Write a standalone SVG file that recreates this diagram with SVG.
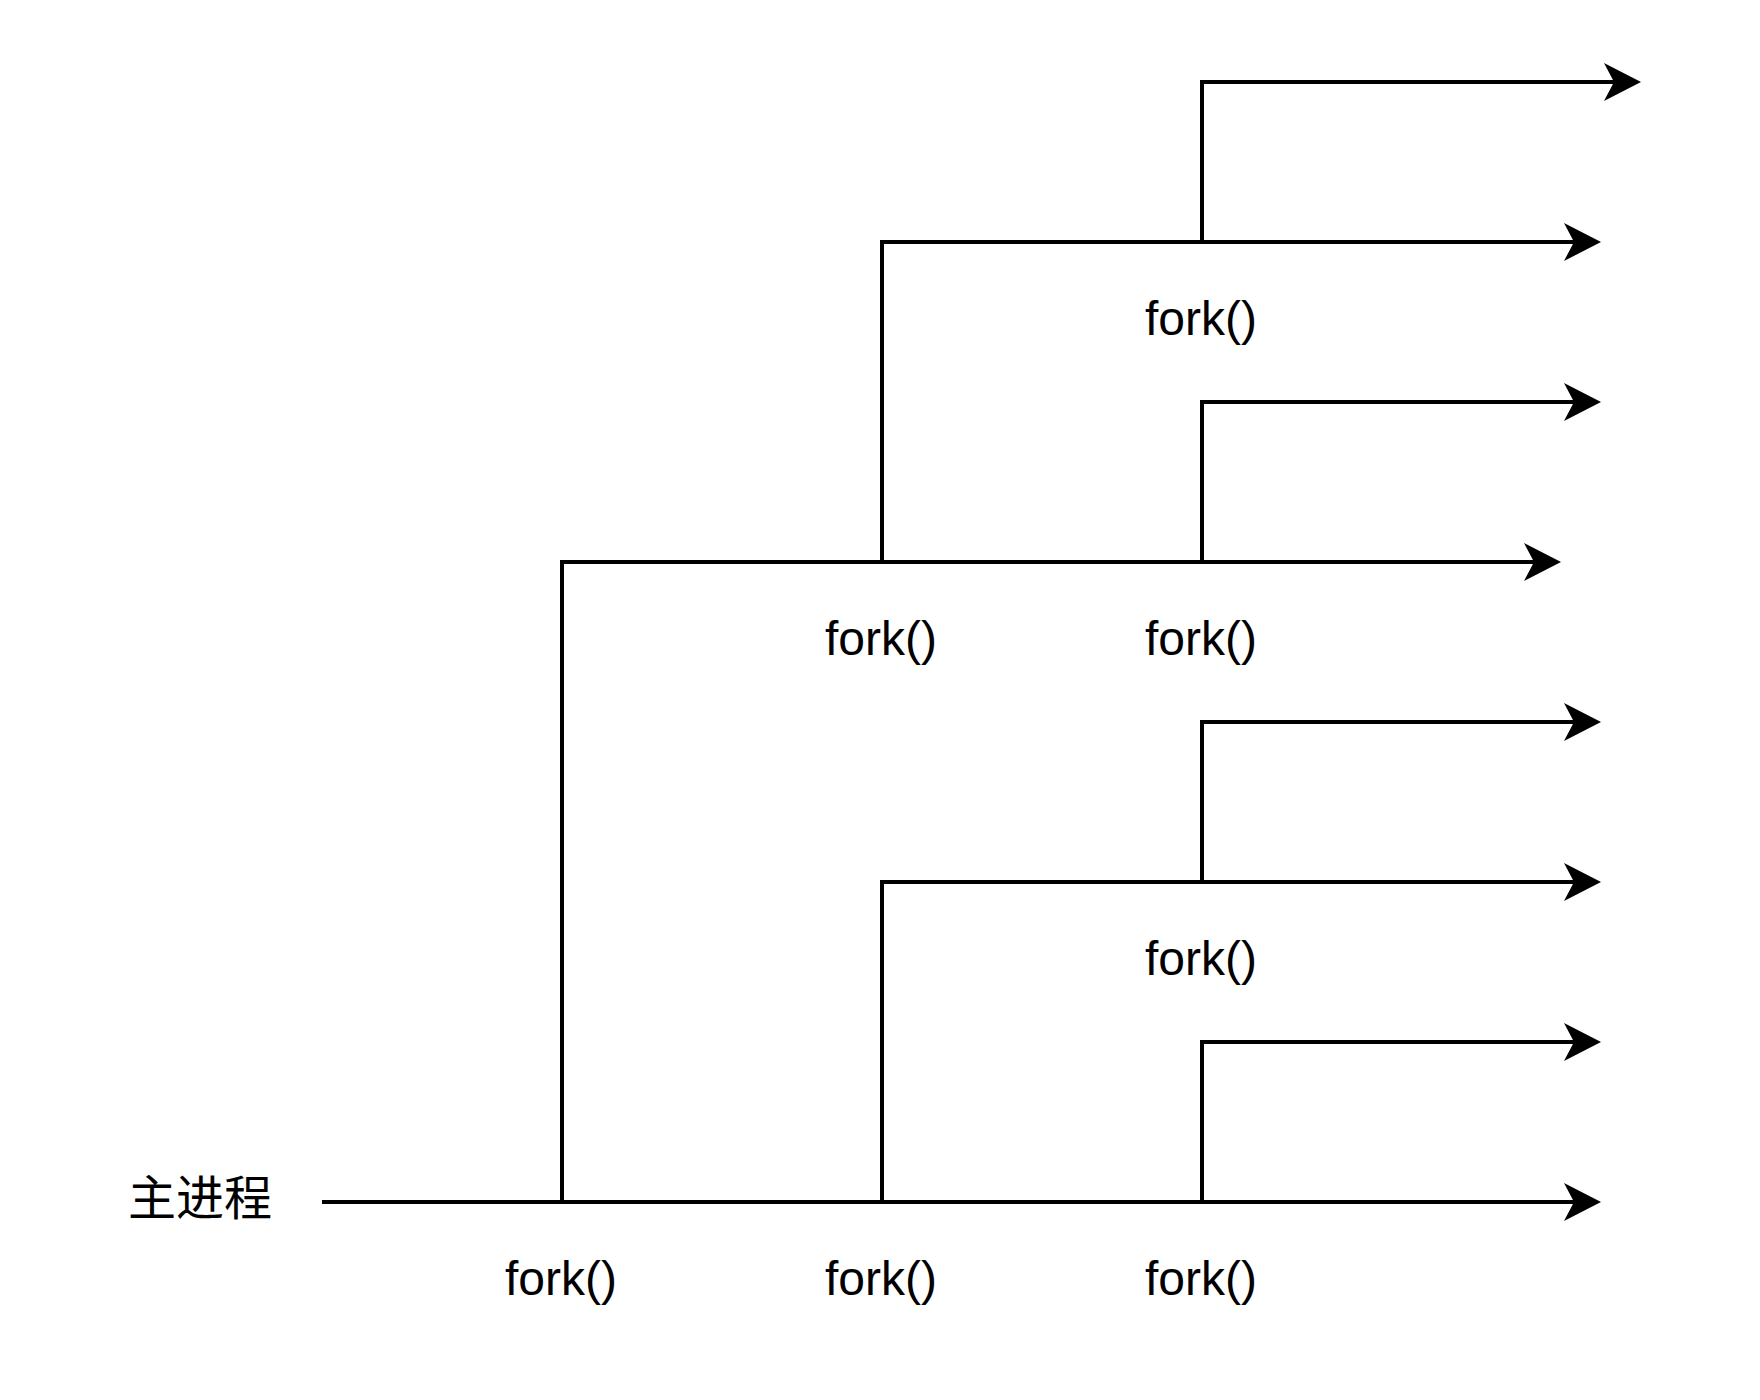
<svg xmlns="http://www.w3.org/2000/svg" width="1760" height="1400" viewBox="0 0 1760 1400">
<style>
.edge{fill:none;stroke:#000;stroke-width:4;stroke-linejoin:miter;marker-end:url(#arr)}
.lbl{font-family:"Liberation Sans","Noto Sans CJK SC",sans-serif;font-size:48px;fill:#000;text-anchor:middle}
</style>
<defs>
<marker id="arr" markerUnits="userSpaceOnUse" markerWidth="37" markerHeight="38" refX="10" refY="19" orient="auto" viewBox="0 0 37 38">
<path d="M0,0 L37,19 L0,38 L10,19 Z" fill="#000"/>
</marker>
</defs>
<rect width="1760" height="1400" fill="#fff"/>
<g id="connectors">
<path class="edge" d="M322,1202 L1574,1202"/>
<path class="edge" d="M562,1202 L562,562 L1534,562"/>
<path class="edge" d="M882,1202 L882,882 L1574,882"/>
<path class="edge" d="M1202,1202 L1202,1042 L1574,1042"/>
<path class="edge" d="M1202,882 L1202,722 L1574,722"/>
<path class="edge" d="M882,562 L882,242 L1574,242"/>
<path class="edge" d="M1202,562 L1202,402 L1574,402"/>
<path class="edge" d="M1202,242 L1202,82 L1614,82"/>
</g>
<g id="main-label"><text class="lbl" x="200" y="1215">主进程</text></g>
<g id="fork1"><text class="lbl" x="561" y="1295">fork()</text></g>
<g id="fork2"><text class="lbl" x="881" y="1295">fork()</text></g>
<g id="fork3"><text class="lbl" x="1201" y="1295">fork()</text></g>
<g id="fork4"><text class="lbl" x="881" y="655">fork()</text></g>
<g id="fork5"><text class="lbl" x="1201" y="655">fork()</text></g>
<g id="fork6"><text class="lbl" x="1201" y="335">fork()</text></g>
<g id="fork7"><text class="lbl" x="1201" y="975">fork()</text></g>
</svg>
